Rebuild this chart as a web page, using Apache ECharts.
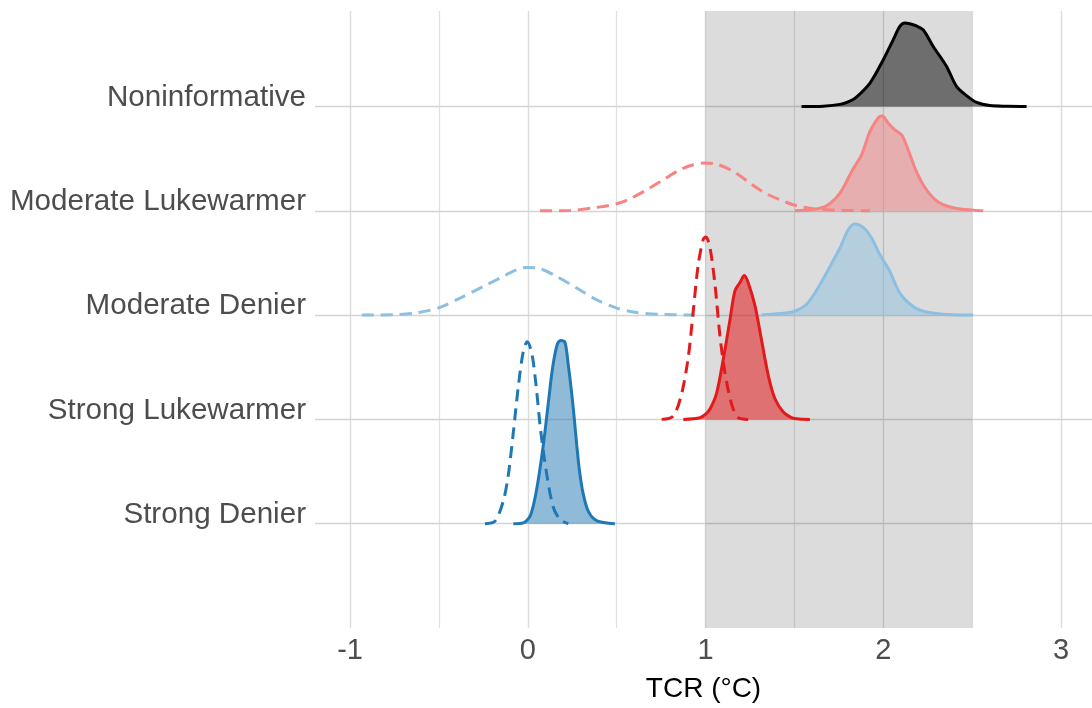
<!DOCTYPE html>
<html><head><meta charset="utf-8">
<script src="https://cdn.jsdelivr.net/npm/echarts@6/dist/echarts.min.js"></script>
<style>html,body{margin:0;padding:0;background:#fff}#c{width:1092px;height:708px}</style>
</head><body><div id="c"></div>
<script>
// categories from bottom (1) to top (5)
const categories = ['Strong Denier','Strong Lukewarmer','Moderate Denier','Moderate Lukewarmer','Noninformative'];
const xTickLabels = [-1, 0, 1, 2, 3];
const xMinorTicks = [-0.5, 0.5, 1.5, 2.5];
const shadeRange = [1, 2.5];
const xTitle = 'TCR (°C)';

// density heights (in row units): [TCR, height]
const nonInfPost = [[1.54,0],[1.662,0.003],[1.756,0.02],[1.812,0.052],[1.849,0.09],[1.925,0.224],[2.0,0.448],[2.056,0.64],[2.093,0.767],[2.121,0.80],[2.149,0.793],[2.183,0.774],[2.224,0.735],[2.281,0.575],[2.356,0.384],[2.412,0.192],[2.468,0.103],[2.525,0.038],[2.6,0.008],[2.7,0.002],[2.806,0]];
const modLukePost = [[1.503,0],[1.606,0.013],[1.681,0.048],[1.756,0.169],[1.822,0.377],[1.878,0.537],[1.925,0.76],[1.971,0.889],[1.993,0.911],[2.028,0.84],[2.065,0.776],[2.103,0.728],[2.14,0.585],[2.178,0.409],[2.224,0.249],[2.281,0.122],[2.337,0.058],[2.412,0.022],[2.506,0.006],[2.562,0]];
const modLukePrior = [[0.069,0],[0.237,0.003],[0.387,0.032],[0.5,0.067],[0.575,0.115],[0.669,0.201],[0.762,0.297],[0.856,0.393],[0.931,0.441],[0.987,0.457],[1.062,0.447],[1.156,0.377],[1.25,0.265],[1.325,0.179],[1.418,0.105],[1.512,0.048],[1.606,0.019],[1.75,0.004],[1.925,0]];
const modDenPost = [[1.315,0],[1.418,0.015],[1.493,0.032],[1.569,0.105],[1.643,0.29],[1.7,0.466],[1.756,0.643],[1.803,0.818],[1.84,0.873],[1.887,0.84],[1.934,0.738],[1.981,0.578],[2.037,0.418],[2.093,0.211],[2.168,0.083],[2.243,0.029],[2.356,0.006],[2.506,0]];
const modDenPrior = [[-0.934,0],[-0.756,0.003],[-0.625,0.022],[-0.494,0.073],[-0.381,0.163],[-0.25,0.274],[-0.156,0.355],[-0.062,0.434],[-0.006,0.457],[0.069,0.444],[0.162,0.371],[0.275,0.259],[0.387,0.147],[0.5,0.067],[0.612,0.025],[0.744,0.006],[0.94,0]];
const strLukePost = [[0.875,0],[0.969,0.016],[1.0,0.05],[1.025,0.1],[1.062,0.25],[1.1,0.58],[1.137,0.95],[1.165,1.23],[1.193,1.31],[1.218,1.38],[1.24,1.31],[1.278,1.09],[1.315,0.76],[1.353,0.42],[1.39,0.2],[1.437,0.07],[1.48,0.02],[1.512,0.007],[1.587,0]];
const strLukePrior = [[0.753,0],[0.818,0.031],[0.866,0.25],[0.903,0.6],[0.931,1.04],[0.959,1.486],[0.987,1.726],[1.002,1.749],[1.025,1.646],[1.053,1.294],[1.081,0.8],[1.109,0.45],[1.147,0.144],[1.184,0.016],[1.24,0]];
const strDenPost = [[-0.081,0],[-0.025,0.008],[0.015,0.08],[0.05,0.33],[0.087,0.75],[0.115,1.15],[0.14,1.5],[0.166,1.72],[0.185,1.757],[0.209,1.74],[0.228,1.52],[0.247,1.25],[0.262,1.0],[0.275,0.76],[0.29,0.52],[0.31,0.3],[0.34,0.12],[0.387,0.03],[0.49,0]];
const strDenPrior = [[-0.241,0],[-0.184,0.025],[-0.138,0.217],[-0.11,0.46],[-0.081,0.88],[-0.053,1.32],[-0.025,1.655],[-0.003,1.745],[0.022,1.639],[0.045,1.35],[0.072,0.9],[0.106,0.48],[0.143,0.16],[0.181,0.041],[0.228,0]];

const groups = [
  {base:5, line:'#000000', fill:'rgba(0,0,0,0.5)', post:nonInfPost, prior:null},
  {base:4, line:'#f58482', fill:'rgba(240,128,128,0.5)', post:modLukePost, prior:modLukePrior},
  {base:3, line:'#8cbfe0', fill:'rgba(140,191,224,0.5)', post:modDenPost, prior:modDenPrior},
  {base:2, line:'#e31a1c', fill:'rgba(227,26,28,0.55)', post:strLukePost, prior:strLukePrior},
  {base:1, line:'#1f78b4', fill:'rgba(31,120,180,0.5)', post:strDenPost, prior:strDenPrior}
];

const FONT = '"Liberation Sans", Arial, sans-serif';
const LW = 3;
const series = [];
// gridlines
series.push({
  type:'line', data:[], z:1, silent:true,
  markLine:{silent:true, symbol:'none', z:1, label:{show:false}, animation:false,
    data:[
      ...xTickLabels.map(v=>({xAxis:v, lineStyle:{color:'#dcdcdc', width:1.4, type:'solid'}})),
      ...xMinorTicks.map(v=>({xAxis:v, lineStyle:{color:'#e1e1e1', width:1.2, type:'solid'}})),
      ...categories.map((c,i)=>({yAxis:i+1, lineStyle:{color:'#d4d4d4', width:1.4, type:'solid'}}))
    ]}
});
// shaded band
series.push({
  type:'line', data:[], z:2, silent:true,
  markArea:{silent:true, z:2, itemStyle:{color:'rgba(0,0,0,0.137)'}, data:[[{xAxis:shadeRange[0]},{xAxis:shadeRange[1]}]]}
});
let z = 5;
groups.forEach(g=>{
  series.push({
    type:'line', z:z++, smooth:0.3, showSymbol:false, symbol:'none', silent:true, animation:false,
    data:g.post.map(p=>[p[0], g.base+p[1]]),
    lineStyle:{color:g.line, width:LW},
    areaStyle:{origin:g.base, color:g.fill, opacity:1}
  });
  if (g.prior) series.push({
    type:'line', z:z++, smooth:0.3, showSymbol:false, symbol:'none', silent:true, animation:false,
    data:g.prior.map(p=>[p[0], g.base+p[1]]),
    lineStyle:{color:g.line, width:LW, type:[12,7]}
  });
});

const chart = echarts.init(document.getElementById('c'), null, {renderer:'canvas'});
chart.setOption({
  backgroundColor:'#ffffff',
  animation:false,
  grid:{left:315, right:0, top:11, bottom:80, containLabel:false},
  xAxis:{type:'value', min:-1.197, max:3.174,
    name:xTitle, nameLocation:'middle', nameGap:47,
    nameTextStyle:{fontFamily:FONT, fontSize:28, color:'#000000'},
    axisLine:{show:false}, axisTick:{show:false}, splitLine:{show:false},
    axisLabel:{customValues:xTickLabels, fontFamily:FONT, fontSize:29, color:'#4d4d4d', margin:8,
      formatter:v=>String(v)}},
  yAxis:{type:'value', min:0, max:5.915,
    axisLine:{show:false}, axisTick:{show:false}, splitLine:{show:false},
    axisLabel:{customValues:[1,2,3,4,5], fontFamily:FONT, fontSize:29.6, color:'#4d4d4d', margin:9,
      verticalAlign:'bottom', lineHeight:18, formatter:v=>categories[Math.round(v)-1] || ''}},
  series
});
</script>
</body></html>
